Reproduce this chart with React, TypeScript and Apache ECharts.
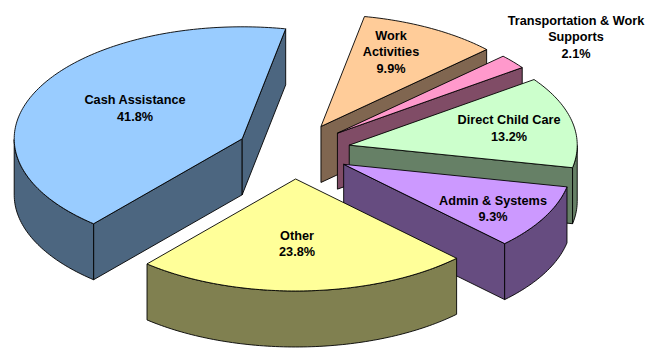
import React, { useEffect, useRef } from "react";
import * as echarts from "echarts";

// Budget shares, listed clockwise from the first slice's leading edge.
const categories = ["Work\nActivities", "Transportation & Work\nSupports", "Direct Child Care", "Admin & Systems", "Other", "Cash Assistance"];
const shares = [9.9, 2.1, 13.2, 9.3, 23.8, 41.8];
const topColors = ["#FFCC99", "#FF99CC", "#CCFFCC", "#CC99FF", "#FFFF99", "#99CCFF"];
const sideColors = ["#806650", "#804C66", "#668066", "#664C80", "#808050", "#4C6680"];
const labelAnchors = [[391, 52], [576, 37], [509, 128.5], [493, 209], [297, 244], [135, 108.5]];

// Projection of the tilted pie onto the page.
const CENTER_X = 293.5;
const CENTER_Y = 151;
const RADIUS_X = 228;
const RADIUS_Y = 112;
const EXPLODE = 0.25;
const DEPTH = 56;
const FIRST_ANGLE = 79;

const total = shares.reduce((a, b) => a + b, 0);
const DEG = Math.PI / 180;

function renderSlice(params: any, api: any) {
  const i = params.dataIndex;
  const before = shares.slice(0, i).reduce((a, b) => a + b, 0);
  const from = FIRST_ANGLE - (before / total) * 360;
  const to = from - (api.value(1) / total) * 360;
  const mid = ((from + to) / 2) * DEG;
  const ox = CENTER_X + EXPLODE * RADIUS_X * Math.cos(mid);
  const oy = CENTER_Y - EXPLODE * RADIUS_Y * Math.sin(mid);
  const at = (deg: number, drop = 0) => [
    ox + RADIUS_X * Math.cos(deg * DEG),
    oy - RADIUS_Y * Math.sin(deg * DEG) + drop,
  ];
  const onLowerHalf = (deg: number) => ((deg % 360) + 360) % 360 >= 180;

  const stroke = { stroke: "#000", lineWidth: 0.9, lineJoin: "round" };
  const face = (points: number[][], fill: string) => ({
    type: "polygon",
    shape: { points },
    style: { fill, ...stroke },
  });
  const children: any[] = [];

  // Radial walls: only those whose outward normal points towards the viewer.
  [from, to].forEach((edge) => {
    const px = -Math.sin(edge * DEG);
    const py = Math.cos(edge * DEG);
    const inward = px * Math.cos(mid) + py * Math.sin(mid) > 0;
    const normalY = inward ? -py : py;
    if (normalY < 0) {
      children.push(face([[ox, oy], at(edge), at(edge, DEPTH), [ox, oy + DEPTH]], sideColors[i]));
    }
  });

  // Outer rim: the part of the arc lying on the lower half of the ellipse.
  const rimAngles: number[] = [];
  for (let a = from; a > to; a -= 1) rimAngles.push(a);
  rimAngles.push(to);
  const visible = rimAngles.filter(onLowerHalf);
  if (visible.length > 1) {
    const rim = visible.map((a) => at(a)).concat(visible.slice().reverse().map((a) => at(a, DEPTH)));
    children.push(face(rim, sideColors[i]));
  }

  // Top surface.
  const top: number[][] = [[ox, oy]];
  for (let a = from; a > to; a -= 1) top.push(at(a));
  top.push(at(to));
  children.push(face(top, topColors[i]));

  children.push({
    type: "text",
    x: labelAnchors[i][0],
    y: labelAnchors[i][1],
    style: {
      text: `${categories[i]}\n${shares[i].toFixed(1)}%`,
      font: 'bold 12.7px "Liberation Sans", Arial, sans-serif',
      fill: "#000",
      align: "center",
      verticalAlign: "middle",
      lineHeight: 16.5,
    },
  });
  return { type: "group", children };
}

export default function App() {
  const ref = useRef<HTMLDivElement>(null);
  useEffect(() => {
    const chart = echarts.init(ref.current!, undefined, { renderer: "svg" });
    chart.setOption({
      animation: false,
      backgroundColor: "#fff",
      series: [
        {
          type: "custom",
          coordinateSystem: "none",
          silent: true,
          clip: false,
          data: shares.map((v, i) => [i, v]),
          renderItem: renderSlice,
        },
      ],
    });
    return () => chart.dispose();
  }, []);
  return <div ref={ref} style={{ position: "absolute", left: 0, top: 0, width: 647, height: 348 }} />;
}
